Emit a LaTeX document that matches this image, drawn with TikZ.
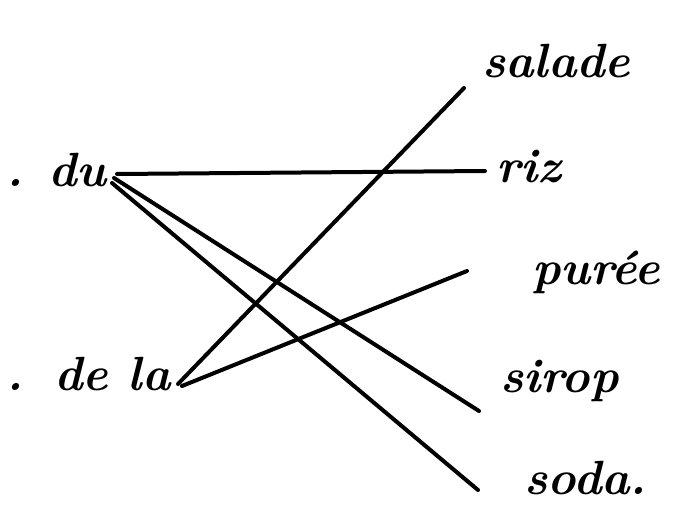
\documentclass[tikz,border=0pt]{standalone}
\usepackage{tikz}

\begin{document}
\begin{tikzpicture}[x=1pt, y=-1pt,
                    word/.style={anchor=base west, inner sep=0pt, font=\fontsize{48}{54}\selectfont\bfseries\itshape},
                    link/.style={line width=4pt, line cap=round}]
                    \useasboundingbox (0,0) rectangle (676,513);
                    % left column
                    \node[word] (dotA) at (6,186) {.};
                    \node[word] (du) at (48,186) {du};
                    \node[word] (dotB) at (6,390) {.};
                    \node[word] (dela) at (54,390) {de la};
                    % right column
                    \node[word] (salade) at (482,78) {salade};
                    \node[word] (riz) at (496,182) {riz};
                    \node[word] (puree) at (532,284) {purée};
                    \node[word] (sirop) at (500,392) {sirop};
                    \node[word] (soda) at (524,494) {soda.};
                    
                    \coordinate (duR) at (117,174);
                    \coordinate (duS) at (114,178);
                    \coordinate (duD) at (112,183);
                    \coordinate (delaS) at (178,384);
                    \coordinate (delaP) at (182,386);
                    \coordinate (rizL) at (485,171);
                    \coordinate (saladeL) at (464,88);
                    \coordinate (pureeL) at (467,271);
                    \coordinate (siropL) at (479,411);
                    \coordinate (sodaL) at (478,490);
                    
                    \draw[link] (duR) -- (rizL);
                    \draw[link] (duS) -- (siropL);
                    \draw[link] (duD) -- (sodaL);
                    \draw[link] (delaS) -- (saladeL);
                    \draw[link] (delaP) -- (pureeL);
                \end{tikzpicture}
\end{document}
